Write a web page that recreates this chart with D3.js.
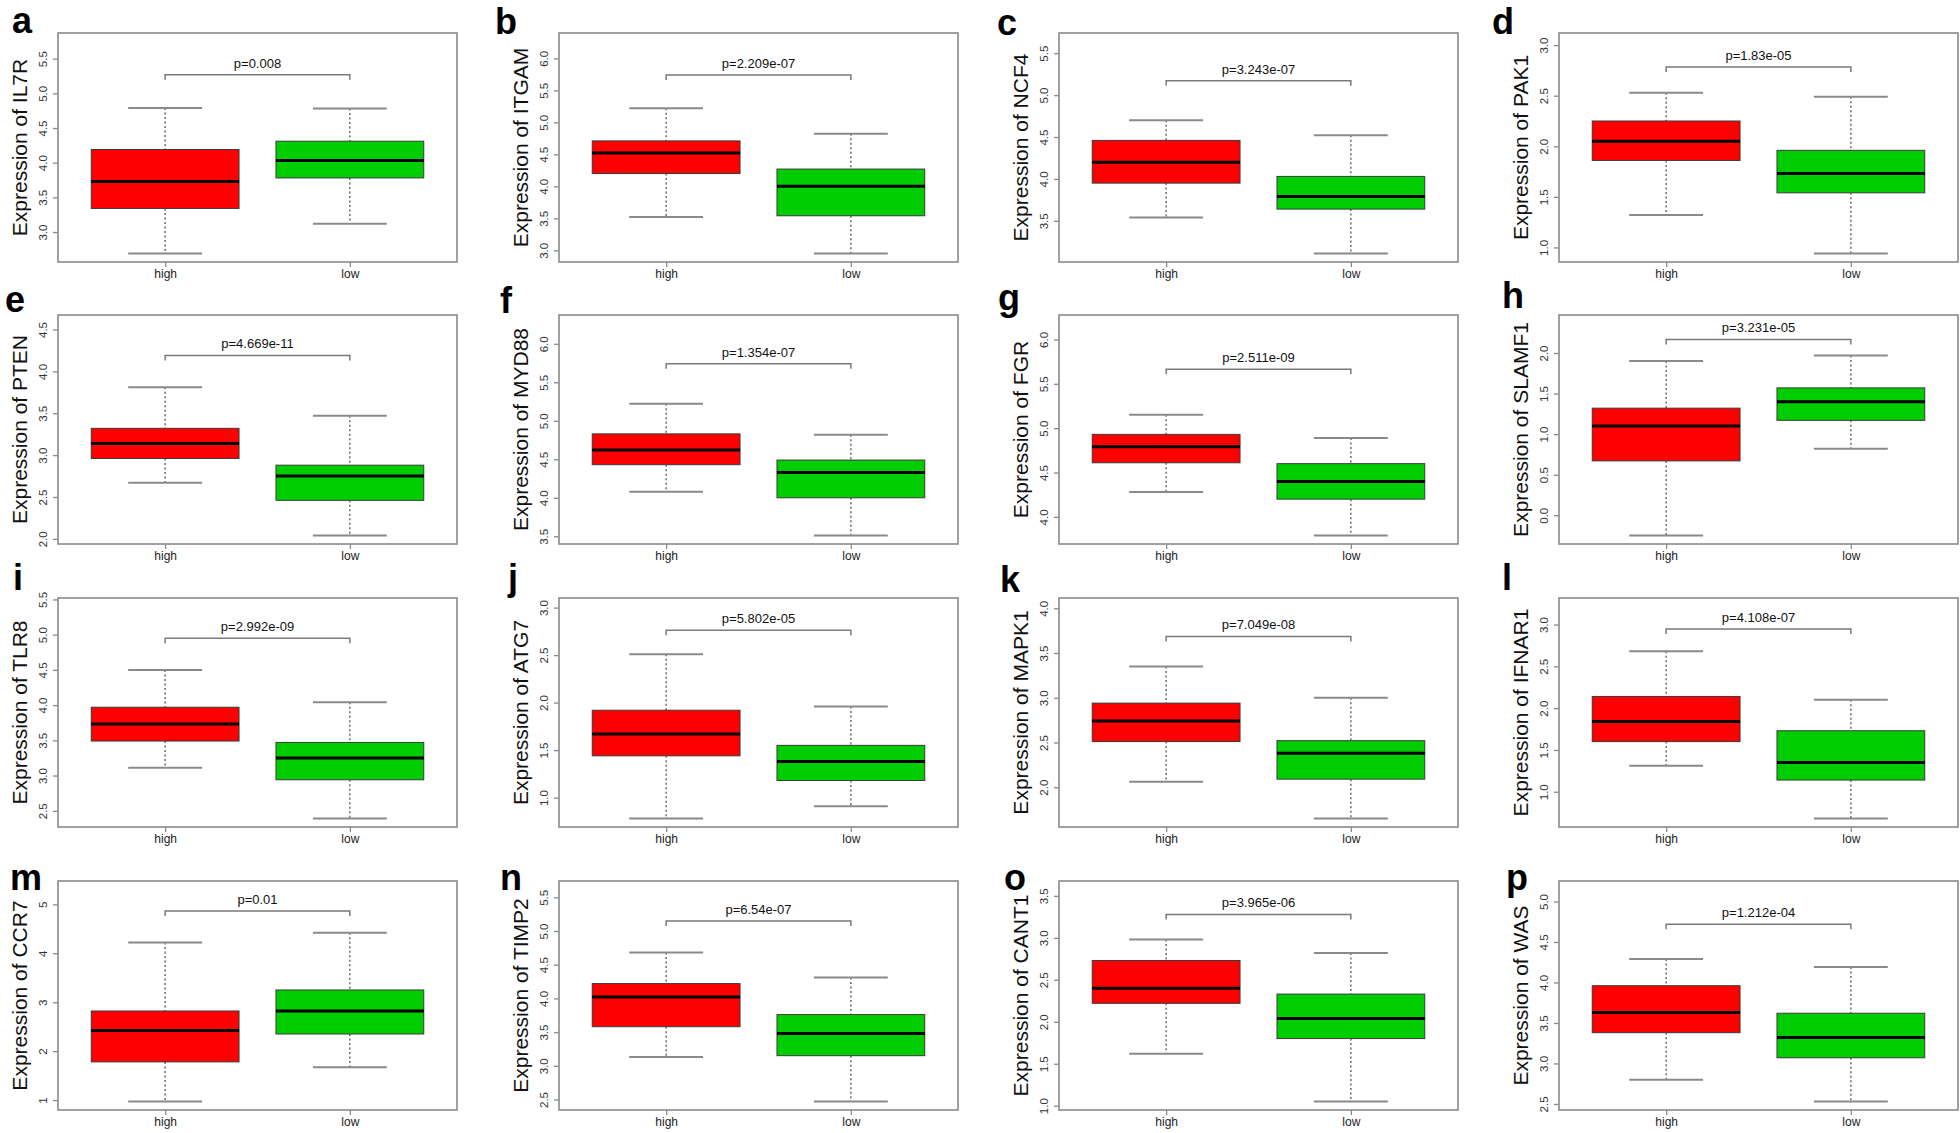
<!DOCTYPE html>
<html>
<head>
<meta charset="utf-8">
<script src="https://cdn.jsdelivr.net/npm/d3@7"></script>
<style>
  html, body { margin: 0; padding: 0; background: #ffffff; }
  svg { display: block; font-family: "Liberation Sans", Arial, Helvetica, sans-serif; }
</style>
</head>
<body>
<script>
// ---------------- data ----------------
const panelLetters = ["a","b","c","d","e","f","g","h","i","j","k","l","m","n","o","p"];
const genes = ["IL7R","ITGAM","NCF4","PAK1","PTEN","MYD88","FGR","SLAMF1",
               "TLR8","ATG7","MAPK1","IFNAR1","CCR7","TIMP2","CANT1","WAS"];
const pValues = ["0.008","2.209e-07","3.243e-07","1.83e-05","4.669e-11","1.354e-07","2.511e-09","3.231e-05",
                 "2.992e-09","5.802e-05","7.049e-08","4.108e-07","0.01","6.54e-07","3.965e-06","1.212e-04"];
const groups = ["high","low"];
// [lower whisker, Q1, median, Q3, upper whisker]
const highStats = [
  [2.69, 3.34, 3.73, 4.19, 4.79],
  [3.52, 4.20, 4.52, 4.71, 5.22],
  [3.54, 3.95, 4.20, 4.46, 4.70],
  [1.32, 1.86, 2.05, 2.25, 2.53],
  [2.67, 2.96, 3.14, 3.32, 3.81],
  [4.08, 4.43, 4.62, 4.83, 5.22],
  [4.28, 4.61, 4.79, 4.93, 5.15],
  [-0.25, 0.67, 1.10, 1.32, 1.90],
  [3.11, 3.49, 3.73, 3.97, 4.50],
  [0.78, 1.44, 1.67, 1.92, 2.51],
  [2.06, 2.51, 2.74, 2.94, 3.35],
  [1.31, 1.60, 1.84, 2.14, 2.68],
  [0.97, 1.78, 2.42, 2.82, 4.22],
  [3.13, 3.58, 4.02, 4.22, 4.68],
  [1.62, 2.22, 2.40, 2.73, 2.98],
  [2.80, 3.38, 3.63, 3.96, 4.29]
];
const lowStats = [
  [3.12, 3.78, 4.03, 4.31, 4.78],
  [2.95, 3.54, 4.00, 4.27, 4.82],
  [3.11, 3.64, 3.79, 4.03, 4.52],
  [0.94, 1.54, 1.73, 1.96, 2.49],
  [2.04, 2.46, 2.75, 2.88, 3.47],
  [3.51, 4.00, 4.33, 4.49, 4.82],
  [3.79, 4.20, 4.40, 4.60, 4.89],
  [0.82, 1.17, 1.40, 1.57, 1.97],
  [2.39, 2.94, 3.25, 3.47, 4.04],
  [0.91, 1.18, 1.38, 1.55, 1.96],
  [1.65, 2.09, 2.38, 2.52, 3.00],
  [0.68, 1.14, 1.35, 1.73, 2.10],
  [1.67, 2.35, 2.82, 3.25, 4.42],
  [2.47, 3.15, 3.48, 3.76, 4.31],
  [1.05, 1.80, 2.04, 2.33, 2.82],
  [2.53, 3.07, 3.32, 3.62, 4.19]
];
const yTicks = [
  [3.0,3.5,4.0,4.5,5.0,5.5],
  [3.0,3.5,4.0,4.5,5.0,5.5,6.0],
  [3.5,4.0,4.5,5.0,5.5],
  [1.0,1.5,2.0,2.5,3.0],
  [2.0,2.5,3.0,3.5,4.0,4.5],
  [3.5,4.0,4.5,5.0,5.5,6.0],
  [4.0,4.5,5.0,5.5,6.0],
  [0.0,0.5,1.0,1.5,2.0],
  [2.5,3.0,3.5,4.0,4.5,5.0,5.5],
  [1.0,1.5,2.0,2.5,3.0],
  [2.0,2.5,3.0,3.5,4.0],
  [1.0,1.5,2.0,2.5,3.0],
  [1,2,3,4,5],
  [2.5,3.0,3.5,4.0,4.5,5.0,5.5],
  [1.0,1.5,2.0,2.5,3.0,3.5],
  [2.5,3.0,3.5,4.0,4.5,5.0]
];
const integerTicks = [false,false,false,false,false,false,false,false,false,false,false,false,true,false,false,false];

// ---------------- layout ----------------
const colLeft = [58, 559, 1059, 1559];
const rowTop = [33, 315, 598, 881];
const W = 399, H = 229;
const letterOffset = [
  [-46,0],[-64,1],[-62,2],[-67,1],
  [-53,-3],[-59,-2],[-61,-5],[-57,-7],
  [-45,-8],[-51,-8],[-59,-6],[-57,-8],
  [-48,9],[-59,9],[-55,9],[-53,9]
];
const fills = ["#FF0000", "#00CD00"];

const svg = d3.select("body").append("svg")
  .attr("width", 1960).attr("height", 1133);

genes.forEach((gene, i) => {
  const col = i % 4, row = Math.floor(i / 4);
  const g = svg.append("g").attr("transform", `translate(${colLeft[col]},${rowTop[row]})`);
  const stats = [highStats[i], lowStats[i]];
  const dMin = d3.min(stats, s => s[0]);
  const dMax = d3.max(stats, s => s[4]);
  const lo = dMin, hi = dMax * 1.2, r = hi - lo;
  const y = d3.scaleLinear().domain([lo - 0.04 * r, hi + 0.04 * r]).range([H, 0]);
  const x = d3.scaleLinear().domain([0.42, 2.58]).range([0, W]);
  const bw = x(1.4) - x(0.6);
  const capW = bw / 2;

  // boxes
  stats.forEach((s, k) => {
    const cx = x(k + 1);
    // whiskers (dashed)
    g.append("line").attr("x1", cx).attr("x2", cx).attr("y1", y(s[4])).attr("y2", y(s[3]))
      .attr("stroke", "#555").attr("stroke-width", 1.3).attr("stroke-dasharray", "2,2.5");
    g.append("line").attr("x1", cx).attr("x2", cx).attr("y1", y(s[1])).attr("y2", y(s[0]))
      .attr("stroke", "#555").attr("stroke-width", 1.3).attr("stroke-dasharray", "2,2.5");
    // caps
    [s[0], s[4]].forEach(v => {
      g.append("line").attr("x1", cx - capW / 2).attr("x2", cx + capW / 2)
        .attr("y1", y(v)).attr("y2", y(v))
        .attr("stroke", "#8a8a8a").attr("stroke-width", 2);
    });
    // box
    g.append("rect").attr("x", cx - bw / 2).attr("y", y(s[3]))
      .attr("width", bw).attr("height", y(s[1]) - y(s[3]))
      .attr("fill", fills[k]).attr("stroke", "#3a3a3a").attr("stroke-width", 1);
    // median
    g.append("line").attr("x1", cx - bw / 2).attr("x2", cx + bw / 2)
      .attr("y1", y(s[2])).attr("y2", y(s[2]))
      .attr("stroke", "#000").attr("stroke-width", 3);
  });

  // frame
  g.append("rect").attr("x", 0).attr("y", 0).attr("width", W).attr("height", H)
    .attr("fill", "none").attr("stroke", "#8a8a8a").attr("stroke-width", 1.6);

  // y axis
  const fmt = integerTicks[i] ? d3.format("d") : d3.format(".1f");
  const ya = g.append("g").call(d3.axisLeft(y).tickValues(yTicks[i]).tickSize(5).tickFormat(fmt));
  ya.select(".domain").remove();
  ya.selectAll(".tick line").attr("stroke", "#8a8a8a").attr("stroke-width", 1.3);
  ya.selectAll(".tick text")
    .attr("x", 0).attr("y", 0).attr("dy", 0)
    .attr("transform", "translate(-11,0) rotate(-90)")
    .attr("text-anchor", "middle")
    .attr("font-size", 11.5).attr("fill", "#333")
    .attr("font-family", "'Liberation Sans', Arial, sans-serif");

  // x axis
  const xa = g.append("g").attr("transform", `translate(0,${H})`)
    .call(d3.axisBottom(x).tickValues([1, 2]).tickSize(5).tickFormat((d, k) => groups[k]));
  xa.select(".domain").remove();
  xa.selectAll(".tick line").attr("stroke", "#8a8a8a").attr("stroke-width", 1.3);
  xa.selectAll(".tick text")
    .attr("y", 0).attr("dy", 0).attr("transform", "translate(0,16)")
    .attr("font-size", 12).attr("fill", "#222")
    .attr("font-family", "'Liberation Sans', Arial, sans-serif");

  // y label
  g.append("text")
    .attr("transform", `translate(-31,${H / 2}) rotate(-90)`)
    .attr("text-anchor", "middle")
    .attr("font-size", 21).attr("fill", "#111")
    .text(`Expression of ${gene}`);

  // p-value bracket
  const by = y(dMax * 1.1);
  g.append("path")
    .attr("d", `M${x(1)},${by + 5}V${by}H${x(2)}V${by + 5}`)
    .attr("fill", "none").attr("stroke", "#7a7a7a").attr("stroke-width", 1.5);
  g.append("text")
    .attr("x", x(1.5)).attr("y", by - 7)
    .attr("text-anchor", "middle")
    .attr("font-size", 13).attr("fill", "#111")
    .text(`p=${pValues[i]}`);

  // panel letter
  g.append("text")
    .attr("x", letterOffset[i][0]).attr("y", letterOffset[i][1])
    .attr("font-size", 36).attr("font-weight", "bold").attr("fill", "#000")
    .text(panelLetters[i]);
});
</script>
</body>
</html>
